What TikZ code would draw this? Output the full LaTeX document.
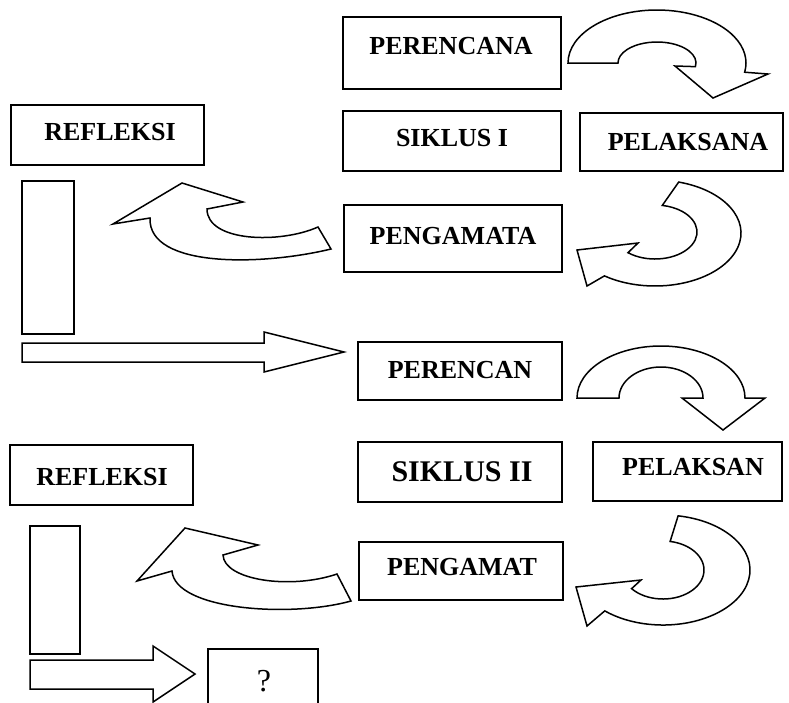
\documentclass[tikz,border=0pt]{standalone}
\usepackage{fontspec}
\setmainfont{Liberation Serif}
\begin{document}
\begin{tikzpicture}[x=1pt,y=-1pt,
  box/.style={draw,line width=1.6pt,inner sep=0pt},
  lbl/.style={font=\fontsize{26}{30}\selectfont\bfseries,inner sep=0pt},
  blockarrow/.style={draw,line width=1.5pt,fill=white,line join=miter}]
% Everything is measured in pixels of the page, y running downwards.
\useasboundingbox (0,0) rectangle (789,702);
% The boxes of the first cycle.  The text is put on top of each box
% separately since it does not always sit in the middle of it.
\node[box,minimum width=218pt,minimum height=72pt] (rencana1) at (452,53) {};
\node[lbl] (rencana1-t) at (451,46) {PERENCANA};
\node[box,minimum width=218pt,minimum height=60pt] (siklus1) at (452,141) {};
\node[lbl] (siklus1-t) at (452,138) {SIKLUS I};
\node[box,minimum width=193pt,minimum height=60pt] (refleksi1) at (107.5,135) {};
\node[lbl] (refleksi1-t) at (110,132) {REFLEKSI};
\node[box,minimum width=203pt,minimum height=58pt] (laksana1) at (681.5,142) {};
\node[lbl] (laksana1-t) at (688,142) {PELAKSANA};
\node[box,minimum width=52pt,minimum height=153pt] (tiang1) at (48,257.5) {};
\node[box,minimum width=218pt,minimum height=67pt] (amat1) at (453,238.5) {};
\node[lbl] (amat1-t) at (453,236) {PENGAMATA};
% The boxes of the second cycle.
\node[box,minimum width=204pt,minimum height=58pt] (rencana2) at (460,371) {};
\node[lbl] (rencana2-t) at (460,370) {PERENCAN};
\node[box,minimum width=204pt,minimum height=60pt] (siklus2) at (460,472) {};
\node[lbl,font=\fontsize{30}{34}\selectfont\bfseries] (siklus2-t) at (462,472) {SIKLUS II};
\node[box,minimum width=189pt,minimum height=59pt] (laksana2) at (687.5,471.5) {};
\node[lbl] (laksana2-t) at (693,467) {PELAKSAN};
\node[box,minimum width=183pt,minimum height=60pt] (refleksi2) at (101.5,475) {};
\node[lbl] (refleksi2-t) at (102,477) {REFLEKSI};
\node[box,minimum width=50pt,minimum height=128pt] (tiang2) at (55,590) {};
\node[box,minimum width=204pt,minimum height=58pt] (amat2) at (461,571) {};
\node[lbl] (amat2-t) at (462,567) {PENGAMAT};
% The last box runs off the bottom of the page.
\node[box,minimum width=110pt,minimum height=63pt] (tanya) at (263,680.5) {};
\node[font=\fontsize{32}{36}\selectfont,inner sep=0pt] (tanya-t) at (264,681) {?};
% Curved block arrows of the first cycle: half rings made of two
% elliptic arcs, closed off with the arrow head.
\draw[blockarrow] (568,63) arc (180:370:89 and 53) -- (768,74) -- (713,98)
  -- (675,66) -- ([shift={(370:39 and 21)}]657,63) arc (370:180:39 and 21) -- cycle;
\draw[blockarrow] ([shift={(-74:86 and 53)}]655,233) arc (-74:126:86 and 53)
  -- (587,286) -- (577,250) -- (638,243)
  -- ([shift={(130:42 and 27)}]655,232) arc (130:-80:42 and 27) -- cycle;
% the one on the left is flatter, so curves do better than arcs here
\draw[blockarrow] (331,249) .. controls (261,266) and (148,268) .. (150,218)
  -- (113,224) -- (182,183) -- (243,202)
  -- (207,209) .. controls (207,242) and (280,244) .. (318,227) -- cycle;
% Straight arrow across to the second cycle.
\draw[blockarrow] (22,343) -- (264,343) -- (264,332) -- (344,352) -- (264,372)
  -- (264,362) -- (22,362) -- cycle;
% Curved block arrows of the second cycle.
\draw[blockarrow] (577,398) arc (180:360:84 and 52) -- (765,398) -- (723,430)
  -- (682,398) -- (703,398) arc (360:180:42 and 31) -- cycle;
\draw[blockarrow] ([shift={(-80:87 and 55)}]663,570) arc (-80:132:87 and 55)
  -- (587,626) -- (576,587) -- (641,580)
  -- ([shift={(140:41 and 29)}]663,570) arc (140:-80:41 and 29) -- cycle;
\draw[blockarrow] (351,601) .. controls (290,618) and (175,610) .. (172,571)
  -- (137,581) -- (185,528) -- (258,545)
  -- (223,555) .. controls (224,580) and (290,590) .. (337,574) -- cycle;
% and the short one pointing at the question mark
\draw[blockarrow] (30,660) -- (153,660) -- (153,646) -- (195,674) -- (153,702)
  -- (153,689) -- (30,689) -- cycle;
\end{tikzpicture}
\end{document}
